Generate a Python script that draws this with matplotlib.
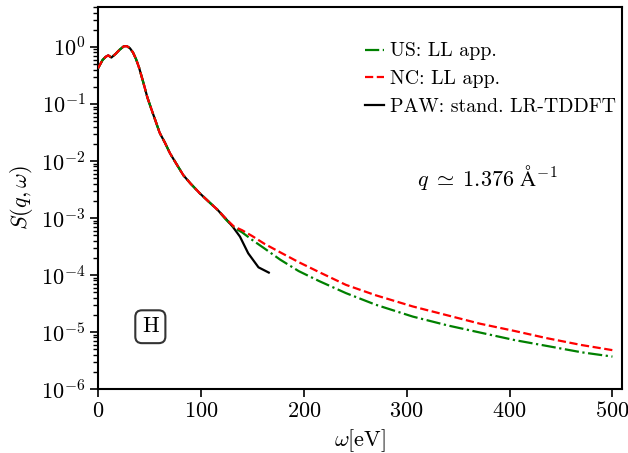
import matplotlib
matplotlib.use("Agg")
import matplotlib.pyplot as plt

plt.rcParams['font.family'] = 'serif'
plt.rcParams['font.serif'] = ['cmr10', 'DejaVu Serif']
plt.rcParams['mathtext.fontset'] = 'cm'
plt.rcParams['axes.formatter.use_mathtext'] = True

# energy grid (eV) shared by the two LL-approximation curves
omega_ll = [0, 1.5, 4.5, 7.5, 10, 13, 17, 21, 25, 28, 31, 34, 37, 40, 44, 48,
            52, 56, 60, 65, 70, 76, 83, 90, 99, 108, 116, 124, 132, 140, 150,
            162, 177, 195, 215, 241, 270, 306, 340, 371, 405, 436, 470, 500]

s_nc = [0.42, 0.47, 0.59, 0.67, 0.71, 0.65, 0.75, 0.89, 1.02, 1.03, 0.95, 0.80,
        0.61, 0.43, 0.24, 0.13, 0.08, 0.05, 0.031, 0.021, 0.0136, 0.0090,
        0.0056, 0.0040, 0.0027, 0.0019, 0.0014, 0.00098, 0.00071, 0.00061,
        0.00048, 0.00035, 0.00025, 0.000168, 0.000112, 0.000067, 0.000044,
        0.000028, 0.0000195, 0.000014, 0.0000104, 0.0000078, 0.0000059,
        0.0000048]

s_us = [0.42, 0.47, 0.59, 0.67, 0.71, 0.65, 0.75, 0.89, 1.02, 1.03, 0.95, 0.80,
        0.61, 0.43, 0.24, 0.13, 0.08, 0.05, 0.031, 0.021, 0.0136, 0.0090,
        0.0056, 0.0040, 0.0027, 0.0019, 0.0014, 0.00095, 0.00068, 0.00056,
        0.00041, 0.00029, 0.000186, 0.000117, 0.000078, 0.000048, 0.000030,
        0.0000186, 0.000013, 0.0000098, 0.0000072, 0.0000057, 0.0000044,
        0.0000037]

# standard LR-TDDFT (PAW) only reaches ~166 eV
omega_paw = [0, 1.5, 4.5, 7.5, 10, 13, 17, 21, 25, 28, 31, 34, 37, 40, 44, 48,
             52, 56, 60, 65, 70, 76, 83, 90, 99, 108, 116, 124, 131, 138, 146,
             156, 166]
s_paw = [0.42, 0.47, 0.59, 0.67, 0.71, 0.65, 0.75, 0.89, 1.02, 1.03, 0.95, 0.80,
         0.61, 0.43, 0.24, 0.13, 0.08, 0.05, 0.031, 0.021, 0.0136, 0.0090,
         0.0056, 0.0040, 0.0027, 0.0019, 0.0014, 0.00098, 0.00070, 0.00047,
         0.00024, 0.000136, 0.00011]

fig = plt.figure(figsize=(6.28, 4.53), dpi=100)
ax = fig.add_axes([0.156, 0.1413, 0.834, 0.8432])

# black underneath, red dashes on top (as in the original)
ax.plot(omega_ll, s_us, '-.', color='green', lw=1.6, zorder=3, label='US: LL app.')
ax.plot(omega_ll, s_nc, '--', color='red', lw=1.6, zorder=4, label='NC: LL app.')
ax.plot(omega_paw, s_paw, '-', color='black', lw=1.6, zorder=2,
        label='PAW: stand. LR-TDDFT')

ax.set_yscale('log')
ax.set_xlim(0, 509)
ax.set_ylim(1e-6, 5)
ax.set_xticks([0, 100, 200, 300, 400, 500])

for s in ax.spines.values():
    s.set_linewidth(1.5)
ax.tick_params(which='major', labelsize=16, length=5.5, width=1.2)
ax.tick_params(which='minor', length=3.5, width=1.0)

ax.set_xlabel(r'$\omega[\mathrm{eV}]$', fontsize=16)
ax.set_ylabel(r'$S(q,\omega)$', fontsize=16)

ax.legend(loc='upper right', bbox_to_anchor=(1.005, 0.928), borderaxespad=0,
          frameon=False, fontsize=14.3, handlelength=1.0, handletextpad=0.3)

ax.text(0.744, 0.554, r'$q\;\simeq\;1.376\ \mathrm{\AA}^{-1}$',
        transform=ax.transAxes, fontsize=16, ha='center', va='center')
ax.text(0.10, 0.163, 'H', transform=ax.transAxes, fontsize=16,
        ha='center', va='center',
        bbox=dict(boxstyle='round,pad=0.3', fc='white', ec='#333333', lw=1.5))

fig.savefig('out.png', dpi=100)
